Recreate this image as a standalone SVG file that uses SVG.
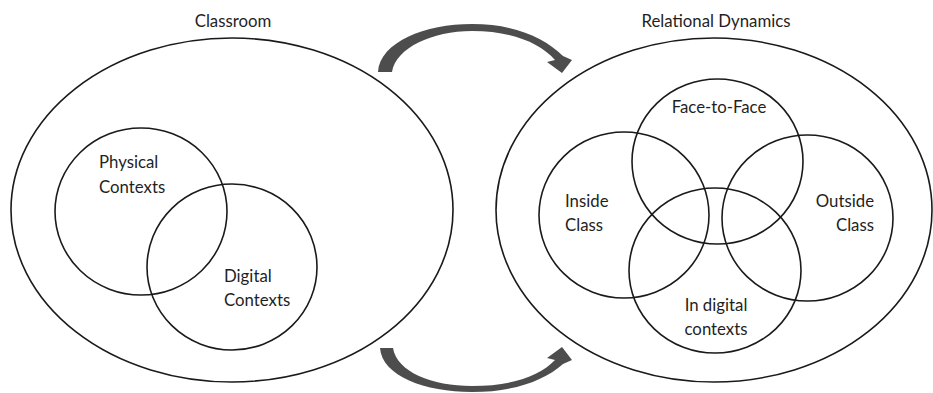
<svg xmlns="http://www.w3.org/2000/svg" width="933" height="393" viewBox="0 0 933 393">
<style>
.c{fill:none;stroke:#1a1a1a;stroke-width:1.6}
.t{font-family:Lato,"Liberation Sans",sans-serif;font-size:16.8px;fill:#1f1f1f}
.arr{fill:#4d4d4d}
</style>
<rect width="933" height="393" fill="#fff"/>
<g id="classroom">
<ellipse class="c" cx="232" cy="210" rx="221" ry="172"/>
<text class="t" x="233" y="27" text-anchor="middle">Classroom</text>
</g>
<g id="physical">
<ellipse class="c" cx="141" cy="211.5" rx="86" ry="83.5"/>
<text class="t" x="99" y="168">Physical</text>
<text class="t" x="99" y="193">Contexts</text>
</g>
<g id="digital">
<ellipse class="c" cx="232" cy="267" rx="85" ry="83"/>
<text class="t" x="224" y="282">Digital</text>
<text class="t" x="224" y="306">Contexts</text>
</g>
<g id="relational">
<ellipse class="c" cx="714" cy="210" rx="218" ry="172"/>
<text class="t" x="716" y="27" text-anchor="middle">Relational Dynamics</text>
</g>
<g id="face">
<ellipse class="c" cx="717.5" cy="161.5" rx="85.5" ry="82.5"/>
<text class="t" x="719" y="113" text-anchor="middle">Face-to-Face</text>
</g>
<g id="inside">
<ellipse class="c" cx="624" cy="215" rx="85" ry="83"/>
<text class="t" x="565" y="207">Inside</text>
<text class="t" x="565" y="231">Class</text>
</g>
<g id="outside">
<ellipse class="c" cx="807.5" cy="218" rx="85.5" ry="83"/>
<text class="t" x="874" y="207" text-anchor="end">Outside</text>
<text class="t" x="874" y="231" text-anchor="end">Class</text>
</g>
<g id="indigital">
<ellipse class="c" cx="715" cy="270.5" rx="86" ry="82.5"/>
<text class="t" x="716" y="311" text-anchor="middle">In digital</text>
<text class="t" x="716" y="335" text-anchor="middle">contexts</text>
</g>
<g id="connectors">
<path class="arr" d="M378,72 C380,42 425,24 472,24 C515,24 545,38 563,56 L572,60 L562,73 L547,62 L555,60 C540,43 512,31 472,31 C432,31 396,48 392,72 Z"/>
<path class="arr" d="M380,348 C382,376 425,392 472,392 C515,392 545,380 563,364 L572,360 L562,347 L547,358 L555,360 C540,376 512,386 472,386 C432,386 397,372 393,348 Z"/>
</g>
</svg>
